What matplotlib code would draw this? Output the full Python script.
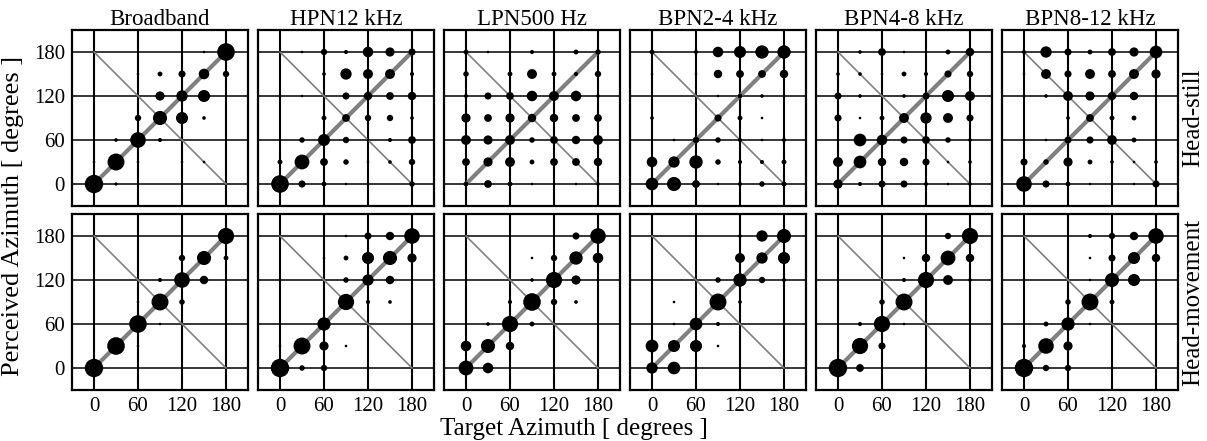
import numpy as np
import matplotlib
matplotlib.use("Agg")
import matplotlib.pyplot as plt

plt.rcParams['font.family'] = ['Liberation Serif', 'DejaVu Serif']

targets = [0, 30, 60, 90, 120, 150, 180]
perceived = [180, 150, 120, 90, 60, 30, 0]   # matrix rows, top to bottom
stimuli = ["Broadband", "HPN12 kHz", "LPN500 Hz", "BPN2-4 kHz", "BPN4-8 kHz", "BPN8-12 kHz"]
conditions = ["Head-still", "Head-movement"]
ticks = [0, 60, 120, 180]

# response percentages (rows: perceived 180..0, cols: target 0..180)
hs_broadband = [[0,0,0,0,0,2,92],[0,0,2,7,15,33,12],[0,0,0,25,38,43,0],[0,0,12,59,43,4,0],
                [0,4,72,5,0,0,0],[2,85,2,0,2,2,0],[100,3,0,0,0,0,0]]
hs_hpn12 = [[0,2,12,5,33,25,15],[0,0,4,38,29,29,5],[0,2,0,15,21,18,21],[0,0,7,18,12,12,4],
            [0,9,43,12,2,5,18],[7,65,18,9,2,4,12],[92,15,7,2,0,0,9]]
hs_lpn500 = [[7,2,2,5,2,7,9],[9,0,7,29,7,5,12],[5,15,18,33,29,33,4],[25,18,25,21,21,18,18],
             [29,25,29,9,18,21,29],[18,25,29,7,18,18,21],[7,18,7,2,2,2,4]]
hs_bpn2_4 = [[7,0,5,33,43,53,53],[2,0,2,21,18,18,21],[0,0,0,2,7,4,0],[4,0,0,15,7,2,0],
             [0,2,12,9,5,2,5],[33,38,53,9,5,5,7],[48,59,18,2,5,9,7]]
hs_bpn4_8 = [[0,4,18,2,2,7,21],[4,4,2,7,5,15,12],[15,4,0,4,15,43,29],[15,2,7,29,38,29,15],
             [2,48,33,15,18,9,4],[29,48,21,21,15,2,4],[25,5,15,15,5,2,4]]
hs_bpn8_12 = [[5,38,15,7,18,25,48],[2,29,15,29,18,29,25],[2,4,29,25,21,21,2],[0,0,4,18,7,7,0],
              [2,2,15,15,29,7,2],[15,9,25,7,4,2,4],[72,15,7,2,2,2,15]]

hm_broadband = [[0,0,0,0,0,0,78],[0,0,0,0,12,59,7],[0,0,0,5,72,21,0],[0,0,2,85,9,0,0],
                [0,0,92,2,0,0,0],[0,92,2,0,0,0,0],[100,0,0,0,0,0,0]]
hm_hpn12 = [[0,0,0,2,15,21,72],[0,0,2,7,43,59,25],[0,0,0,9,38,21,0],[0,0,0,78,5,4,0],
            [0,0,53,0,0,0,0],[2,85,25,2,0,0,0],[100,9,12,0,0,0,0]]
hm_lpn500 = [[0,0,0,0,0,15,72],[0,0,0,2,12,53,33],[0,0,0,4,78,25,2],[0,0,5,92,12,4,0],
             [0,4,78,7,0,0,0],[33,59,21,0,0,0,0],[65,33,0,0,0,0,0]]
hm_bpn2_4 = [[0,0,0,0,4,38,59],[0,0,0,0,29,38,43],[0,0,0,9,53,12,5],[0,2,0,85,4,0,0],
             [2,2,48,5,0,0,0],[48,43,43,2,0,0,0],[38,48,2,0,0,0,0]]
hm_bpn4_8 = [[0,0,0,0,1,12,78],[0,0,0,2,21,65,21],[0,0,0,5,78,29,4],[0,0,9,85,0,0,0],
             [0,5,78,2,0,0,0],[0,78,15,0,0,0,0],[100,18,0,0,0,0,0]]
hm_bpn8_12 = [[0,0,0,5,12,21,72],[0,0,0,2,15,43,21],[0,0,0,2,59,43,2],[0,0,9,85,7,0,0],
              [0,7,53,2,0,0,0],[5,72,25,0,0,0,0],[100,12,12,0,0,0,0]]

head_still = [hs_broadband, hs_hpn12, hs_lpn500, hs_bpn2_4, hs_bpn4_8, hs_bpn8_12]
head_move = [hm_broadband, hm_hpn12, hm_lpn500, hm_bpn2_4, hm_bpn4_8, hm_bpn8_12]

W, H = 1207, 441
fig = plt.figure(figsize=(W / 100, H / 100), dpi=100)

left0, pw, step = 72, 176, 186
row_tops = [30, 214]

TX, PY = np.meshgrid(targets, perceived)

for r, data_row in enumerate([head_still, head_move]):
    for c, mat in enumerate(data_row):
        x0 = left0 + c * step
        y_top = row_tops[r]
        ax = fig.add_axes([x0 / W, 1 - (y_top + pw) / H, pw / W, pw / H])
        ax.set_xlim(-30, 210)
        ax.set_ylim(-30, 210)
        for t in ticks:
            ax.axvline(t, color='black', lw=1.5, zorder=1)
            ax.axhline(t, color='black', lw=1.1, zorder=1)
        ax.plot([0, 180], [0, 180], color='#808080', lw=3.0, zorder=2, solid_capstyle='butt')
        ax.plot([0, 180], [180, 0], color='#808080', lw=1.2, zorder=2)
        v = np.asarray(mat, dtype=float)
        m = v > 0
        ax.scatter(TX[m], PY[m], s=1.75 * v[m], color='black', linewidths=0, zorder=3)
        ax.set_xticks(ticks)
        ax.set_yticks(ticks)
        ax.tick_params(length=0, labelsize=15, pad=5)
        for sp in ax.spines.values():
            sp.set_linewidth(1.6)
        if c != 0:
            ax.set_yticklabels([])
        if r != 1:
            ax.set_xticklabels([])
        if r == 0:
            ax.set_title(stimuli[c], fontsize=16.5, pad=3)
        if c == 5:
            ax.yaxis.set_label_position('right')
            ax.set_ylabel(conditions[r], fontsize=18, rotation=90, labelpad=3)

fig.text(13 / W, 1 - 216 / H, "Perceived Azimuth [ degrees ]", rotation=90,
         fontsize=19, ha='center', va='center')
fig.text(574 / W, 1 / H, "Target Azimuth [ degrees ]",
         fontsize=18, ha='center', va='bottom')

fig.savefig("out.png", dpi=100)
